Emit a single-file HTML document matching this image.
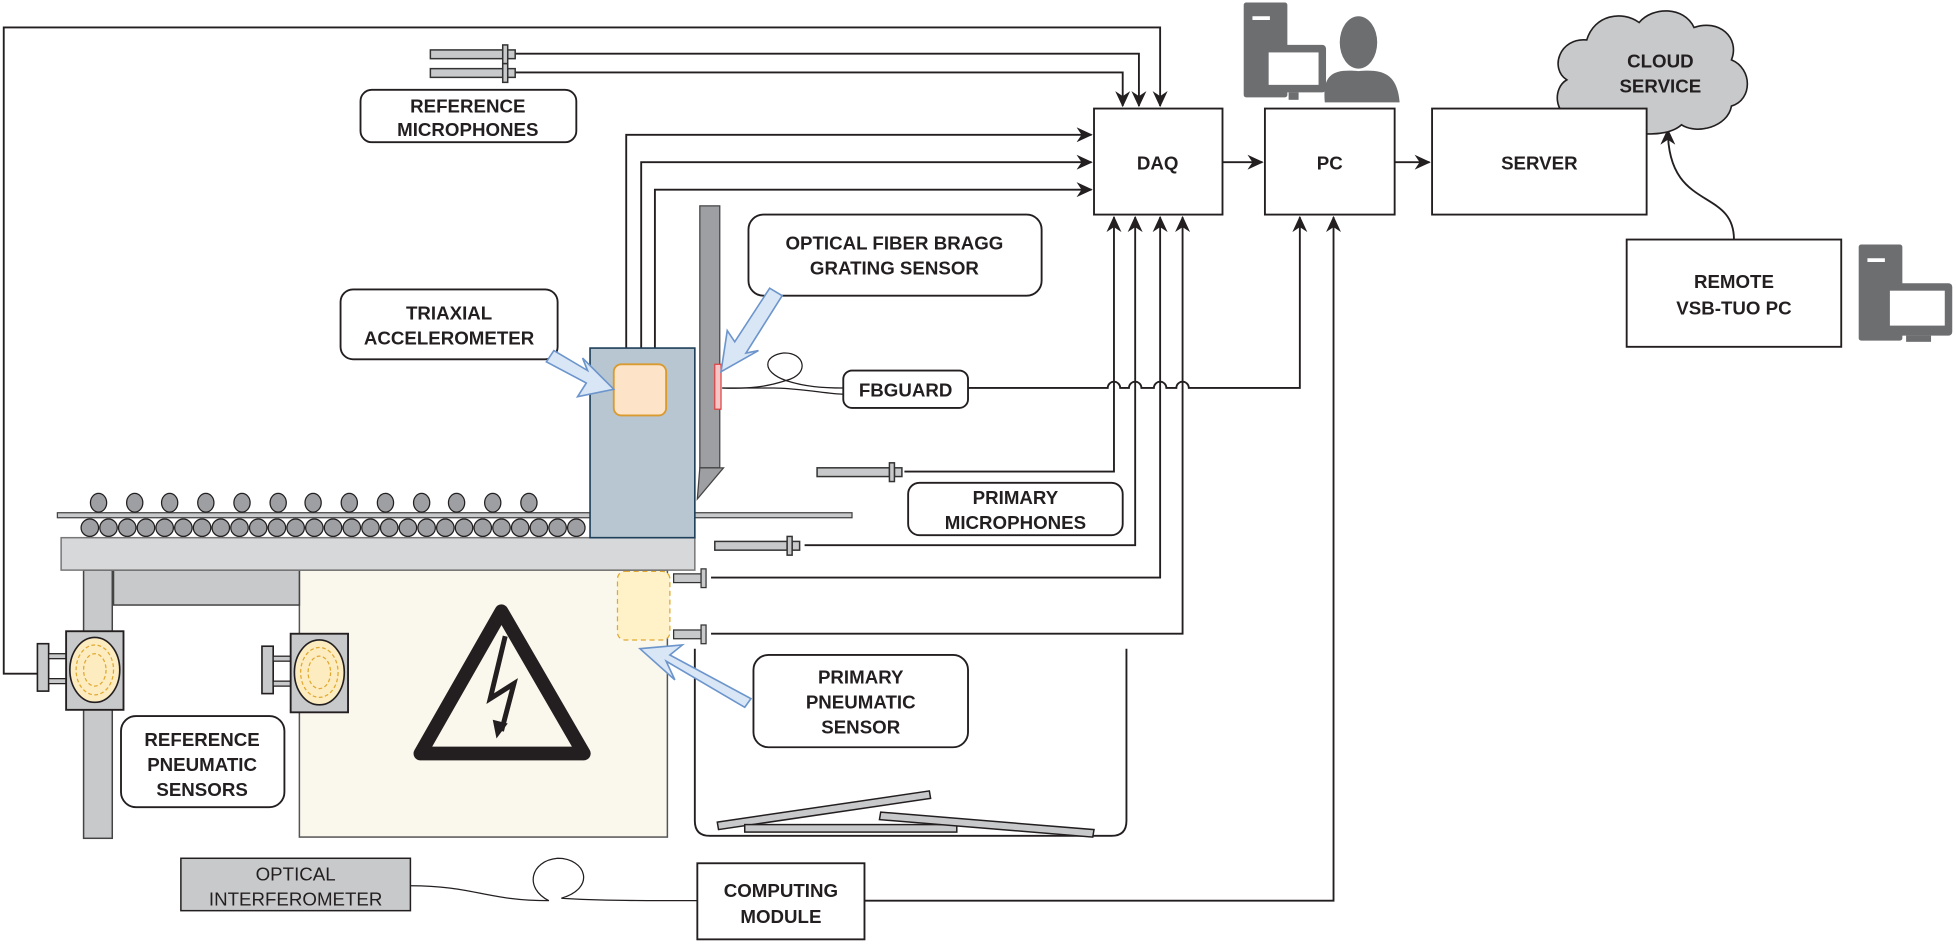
<!DOCTYPE html>
<html><head><meta charset="utf-8"><style>html,body{margin:0;padding:0;background:#fff}svg{display:block}text{font-family:"Liberation Sans",Arial,sans-serif;font-weight:bold;fill:#231f20;text-anchor:middle}text.n{font-weight:normal}</style></head><body>
<svg width="1956" height="944" viewBox="0 0 1568 756.7" xmlns="http://www.w3.org/2000/svg">
<defs>
<marker id="a" markerWidth="13" markerHeight="12" refX="12" refY="6" orient="auto" markerUnits="userSpaceOnUse"><path d="M0,0 L13,6 L0,12 L4,6z" fill="#231f20"/></marker>
<g id="mic"><rect x="0" y="-3" width="58" height="7" fill="#c8c9ca" stroke="#333" stroke-width="1.2"/><rect x="62" y="-3" width="6" height="7" fill="#c8c9ca" stroke="#333" stroke-width="1.2"/><rect x="58" y="-7" width="4" height="15" fill="#c8c9ca" stroke="#333" stroke-width="1.2"/></g>
<g id="pn"><rect x="0" y="-14" width="9" height="38" fill="#c8c9ca" stroke="#231f20" stroke-width="1.3"/><rect x="9" y="-6" width="14" height="4" fill="#c8c9ca" stroke="#231f20"/><rect x="9" y="14" width="14" height="4" fill="#c8c9ca" stroke="#231f20"/><rect x="23" y="-24" width="46" height="63" fill="#c8c9ca" stroke="#231f20" stroke-width="1.5"/><ellipse cx="46" cy="7" rx="20" ry="26" fill="#fdecc0" stroke="#231f20" stroke-width="1.3"/><ellipse cx="46" cy="7" rx="15" ry="20" fill="none" stroke="#e0a830" stroke-dasharray="3 2"/><ellipse cx="46" cy="7" rx="9" ry="13" fill="none" stroke="#e0a830" stroke-dasharray="3 2"/></g>
</defs>
<g fill="none" stroke="#231f20" stroke-width="1.5">
<path d="M30,540 H3 V22 H930 V85" marker-end="url(#a)"/>
<path d="M410,43 H913 V85" marker-end="url(#a)"/>
<path d="M410,58 H900 V85" marker-end="url(#a)"/>
<path d="M502,295 V108 H875" marker-end="url(#a)"/>
<path d="M514,295 V130 H875" marker-end="url(#a)"/>
<path d="M525,295 V152 H875" marker-end="url(#a)"/>
<path d="M980,130 H1012" marker-end="url(#a)"/>
<path d="M1118,130 H1146" marker-end="url(#a)"/>
<path d="M725,378 H893 V174" marker-end="url(#a)"/>
<path d="M645,437 H910 V174" marker-end="url(#a)"/>
<path d="M570,463 H930 V174" marker-end="url(#a)"/>
<path d="M570,508 H948 V174" marker-end="url(#a)"/>
<path d="M776,311 H888 a5,5 0 0 1 10,0 H905 a5,5 0 0 1 10,0 H925 a5,5 0 0 1 10,0 H943 a5,5 0 0 1 10,0 H1042 V174" marker-end="url(#a)"/>
<path d="M693,722 H1069 V174" marker-end="url(#a)"/>
<path d="M1390,192 C1390,150 1337,170 1337,104" marker-end="url(#a)"/>
<path d="M579,311 H620 C640,311 665,316 676,316" stroke-width="1"/>
<path d="M579,311 C600,312 615,310 630,305 C610,298 612,285 628,283 C645,282 650,300 630,305 C645,310 660,311 676,311" stroke-width="1"/>
<path d="M329,710 C380,710 390,722 440,722 C420,712 425,690 447,688 C470,688 478,712 450,720 C480,722 520,722 559,722" stroke-width="1"/>
</g>
<g fill="#fff" stroke="#231f20" stroke-width="1.5">
<rect x="877" y="87" width="103" height="85"/><rect x="1014" y="87" width="104" height="85"/>
<rect x="1304" y="192" width="172" height="86"/>
<rect x="559" y="692" width="134" height="61"/>
<rect x="289" y="72" width="173" height="42" rx="9"/>
<rect x="600" y="172" width="235" height="65" rx="12"/>
<rect x="273" y="232" width="174" height="56" rx="10"/>
<rect x="676" y="297" width="100" height="30" rx="7"/>
<rect x="728" y="387" width="172" height="42" rx="9"/>
<rect x="604" y="525" width="172" height="74" rx="12"/>
<rect x="97" y="574" width="131" height="73" rx="12"/>
</g>
<path d="M1262,95 C1245,92 1245,70 1256,64 C1242,55 1250,30 1272,32 C1278,12 1300,8 1314,18 C1325,5 1350,5 1358,22 C1378,15 1395,30 1388,48 C1405,55 1405,80 1388,85 C1385,102 1360,108 1348,100 C1335,112 1300,108 1292,97 C1280,103 1265,100 1262,95z" fill="#c8c9ca" stroke="#231f20" stroke-width="1.3"/>
<rect x="1148" y="87" width="172" height="85" fill="#fff" stroke="#231f20" stroke-width="1.5"/>
<g fill="#6d6e70">
<rect x="997" y="2" width="35" height="76" rx="2"/><rect x="1011" y="36" width="52" height="38" rx="3"/><rect x="1017" y="42" width="40" height="26" fill="#fff"/><rect x="1033" y="74" width="8" height="6"/>
<ellipse cx="1089" cy="34" rx="15" ry="21"/><path d="M1062,82 C1060,60 1068,55 1089,57 C1110,55 1120,60 1122,82z"/>
<rect x="1490" y="196" width="35" height="77" rx="2"/><rect x="1509" y="227" width="56" height="42" rx="3"/><rect x="1515" y="233" width="44" height="28" fill="#fff"/><rect x="1528" y="269" width="20" height="5"/>
</g>
<rect x="1004" y="13" width="14" height="3" fill="#fff"/><rect x="1497" y="207" width="14" height="3" fill="#fff"/>
<use href="#mic" x="345" y="43"/><use href="#mic" x="345" y="58"/>
<use href="#mic" x="655" y="378"/><use href="#mic" x="573" y="437"/>
<g transform="translate(538,463)"><rect x="2" y="-3" width="22" height="7" fill="#c8c9ca" stroke="#333"/><rect x="24" y="-7" width="4" height="15" fill="#c8c9ca" stroke="#333"/></g>
<g transform="translate(538,508)"><rect x="2" y="-3" width="22" height="7" fill="#c8c9ca" stroke="#333"/><rect x="24" y="-7" width="4" height="15" fill="#c8c9ca" stroke="#333"/></g>
<rect x="240" y="457" width="295" height="214" fill="#faf7ec" stroke="#555" stroke-width="1.2"/>
<rect x="67" y="457" width="23" height="215" fill="#c8c9ca" stroke="#444" stroke-width="1.2"/>
<rect x="91" y="457" width="149" height="28" fill="#c8c9ca" stroke="#444" stroke-width="1.2"/>
<rect x="495" y="458" width="42" height="55" rx="6" fill="#fff2c8" stroke="#e0a830" stroke-dasharray="4 3"/>
<path d="M402,490 L468,604 H337z" fill="none" stroke="#231f20" stroke-width="11" stroke-linejoin="round"/>
<path d="M405,510 L393,560 L412,548 L402,586" fill="none" stroke="#231f20" stroke-width="4"/>
<path d="M398,592 L395,577 L407,580z" fill="#231f20"/>
<rect x="46" y="411" width="637" height="4" fill="#c8c9ca" stroke="#444"/>
<g fill="#9d9fa2" stroke="#231f20" stroke-width="1">
<ellipse cx="79" cy="403" rx="6.5" ry="7.5"/><ellipse cx="108" cy="403" rx="6.5" ry="7.5"/><ellipse cx="136" cy="403" rx="6.5" ry="7.5"/><ellipse cx="165" cy="403" rx="6.5" ry="7.5"/><ellipse cx="194" cy="403" rx="6.5" ry="7.5"/><ellipse cx="223" cy="403" rx="6.5" ry="7.5"/><ellipse cx="251" cy="403" rx="6.5" ry="7.5"/><ellipse cx="280" cy="403" rx="6.5" ry="7.5"/><ellipse cx="309" cy="403" rx="6.5" ry="7.5"/><ellipse cx="338" cy="403" rx="6.5" ry="7.5"/><ellipse cx="366" cy="403" rx="6.5" ry="7.5"/><ellipse cx="395" cy="403" rx="6.5" ry="7.5"/><ellipse cx="424" cy="403" rx="6.5" ry="7.5"/>
</g>
<g fill="#9d9fa2" stroke="#231f20" stroke-width="1">
<circle cx="72" cy="423" r="7"/><circle cx="87" cy="423" r="7"/><circle cx="102" cy="423" r="7"/><circle cx="117" cy="423" r="7"/><circle cx="132" cy="423" r="7"/><circle cx="147" cy="423" r="7"/><circle cx="162" cy="423" r="7"/><circle cx="177" cy="423" r="7"/><circle cx="192" cy="423" r="7"/><circle cx="207" cy="423" r="7"/><circle cx="222" cy="423" r="7"/><circle cx="237" cy="423" r="7"/><circle cx="252" cy="423" r="7"/><circle cx="267" cy="423" r="7"/><circle cx="282" cy="423" r="7"/><circle cx="297" cy="423" r="7"/><circle cx="312" cy="423" r="7"/><circle cx="327" cy="423" r="7"/><circle cx="342" cy="423" r="7"/><circle cx="357" cy="423" r="7"/><circle cx="372" cy="423" r="7"/><circle cx="387" cy="423" r="7"/><circle cx="402" cy="423" r="7"/><circle cx="417" cy="423" r="7"/><circle cx="432" cy="423" r="7"/><circle cx="447" cy="423" r="7"/><circle cx="462" cy="423" r="7"/>
</g>
<rect x="49" y="431" width="508" height="26" fill="#d7d8da" stroke="#777" stroke-width="1.2"/>
<rect x="473" y="279" width="84" height="152" fill="#b8c6d1" stroke="#1f3f5a" stroke-width="1.3"/>
<rect x="492" y="292" width="42" height="41" rx="6" fill="#fde4c8" stroke="#d99a30" stroke-width="1.5"/>
<rect x="561" y="165" width="16" height="210" fill="#9d9fa2" stroke="#444"/>
<path d="M561,375 H580 L559,400z" fill="#9d9fa2" stroke="#444"/>
<rect x="573" y="292" width="5" height="36" fill="#f6c6c6" stroke="#d44"/>
<use href="#pn" x="30" y="530"/><use href="#pn" x="210" y="532"/>
<path d="M557,520 V658 Q557,670 569,670 H891 Q903,670 903,658 V520" fill="none" stroke="#231f20" stroke-width="1.5"/>
<g fill="#c8c9ca" stroke="#231f20" stroke-width="1.2">
<path d="M575,659 L745,634 L746,640 L576,665z"/><rect x="597" y="661" width="170" height="6"/><path d="M706,651 L877,665 L876,671 L705,657z"/>
</g>
<g fill="#d9e6f6" stroke="#6c95cc" stroke-width="1.3">
<path d="M444,281 L471,297 L467,287 L492,312 L463,318 L470,307 L438,290z"/>
<path d="M627,237 L598,283 L608,281 L578,298 L583,265 L589,274 L617,231z"/>
<path d="M597,567 L534,530 L541,545 L513,520 L547,517 L537,525 L602,560z"/>
</g>
<rect x="145" y="688" width="184" height="42" fill="#c8c9ca" stroke="#231f20" stroke-width="1.2"/>
<g font-size="15">
<text x="375" y="90">REFERENCE</text><text x="375" y="109">MICROPHONES</text>
<text x="928" y="136">DAQ</text><text x="1066" y="136">PC</text><text x="1234" y="136">SERVER</text>
<text x="1331" y="54">CLOUD</text><text x="1331" y="74">SERVICE</text>
<text x="1390" y="231">REMOTE</text><text x="1390" y="252">VSB-TUO PC</text>
<text x="717" y="200">OPTICAL FIBER BRAGG</text><text x="717" y="220">GRATING SENSOR</text>
<text x="360" y="256">TRIAXIAL</text><text x="360" y="276">ACCELEROMETER</text>
<text x="726" y="318">FBGUARD</text>
<text x="814" y="404">PRIMARY</text><text x="814" y="424">MICROPHONES</text>
<text x="690" y="548">PRIMARY</text><text x="690" y="568">PNEUMATIC</text><text x="690" y="588">SENSOR</text>
<text x="162" y="598">REFERENCE</text><text x="162" y="618">PNEUMATIC</text><text x="162" y="638">SENSORS</text>
<text x="626" y="719">COMPUTING</text><text x="626" y="740">MODULE</text>
<text class="n" x="237" y="706">OPTICAL</text><text class="n" x="237" y="726">INTERFEROMETER</text>
</g>
</svg>
</body></html>
